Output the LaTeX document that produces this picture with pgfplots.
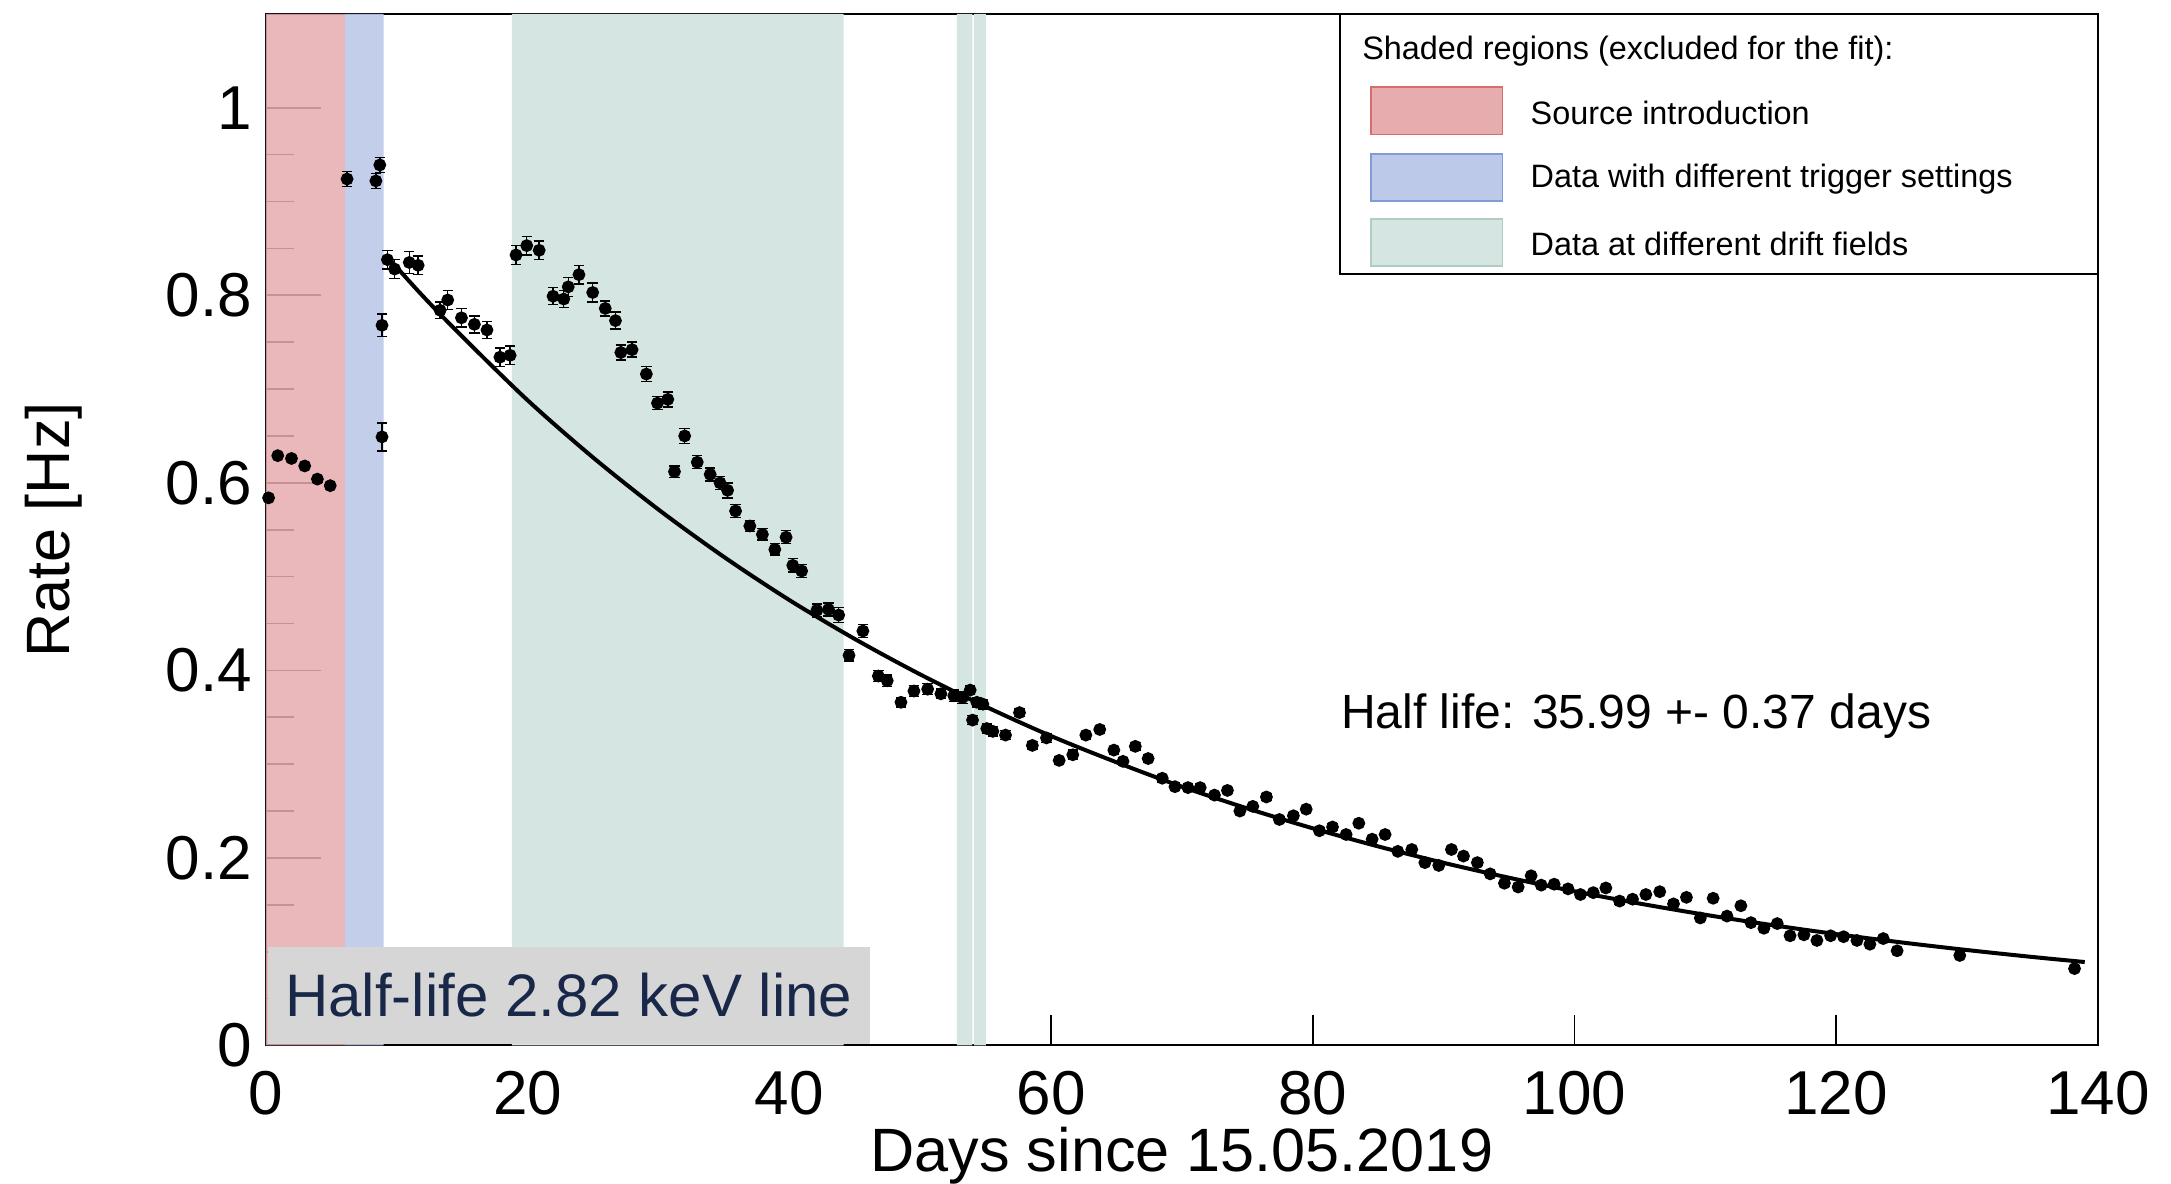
\documentclass[border=0pt]{standalone}
\usepackage{pgfplots}
\pgfplotsset{compat=1.18}
\usepackage{pgfplotstable}
\usepackage{fontspec}
\setmainfont{Liberation Sans}
\definecolor{redsh}{RGB}{230,172,174}
\definecolor{bluesh}{RGB}{189,201,232}
\definecolor{greensh}{RGB}{213,229,225}
\definecolor{redln}{RGB}{214,110,112}
\definecolor{blueln}{RGB}{130,155,215}
\definecolor{greenln}{RGB}{175,205,195}
\definecolor{navy}{RGB}{25,40,72}
\definecolor{boxgray}{RGB}{214,214,214}

\pgfplotstableread{
d v e
0.2 0.584 0.003
0.9 0.629 0.003
1.95 0.626 0.003
2.96 0.618 0.003
3.93 0.604 0.003
4.91 0.597 0.003
6.2 0.924 0.008
8.4 0.922 0.008
8.7 0.939 0.008
8.87 0.768 0.012
8.87 0.649 0.015
9.28 0.838 0.010
9.83 0.828 0.010
10.95 0.835 0.012
11.63 0.832 0.010
13.31 0.784 0.009
13.89 0.795 0.010
14.94 0.776 0.010
15.93 0.769 0.009
16.89 0.763 0.009
17.88 0.734 0.010
18.66 0.736 0.010
19.11 0.843 0.010
19.93 0.853 0.010
20.88 0.848 0.010
21.94 0.799 0.009
22.76 0.796 0.009
23.10 0.809 0.010
23.92 0.822 0.010
24.97 0.803 0.010
25.93 0.786 0.008
26.71 0.773 0.009
27.12 0.739 0.008
27.98 0.742 0.008
29.07 0.716 0.008
29.92 0.685 0.007
30.71 0.689 0.008
31.22 0.612 0.006
32.00 0.650 0.008
32.96 0.622 0.007
33.95 0.609 0.007
34.70 0.600 0.007
35.28 0.592 0.008
35.89 0.570 0.007
36.98 0.554 0.006
37.94 0.545 0.006
38.89 0.529 0.006
39.75 0.542 0.007
40.26 0.512 0.007
40.94 0.506 0.007
42.10 0.464 0.007
42.99 0.465 0.007
43.77 0.459 0.008
44.56 0.416 0.006
45.62 0.442 0.007
46.80 0.394 0.006
47.48 0.389 0.006
48.53 0.366 0.005
49.52 0.378 0.006
50.57 0.380 0.006
51.58 0.375 0.005
52.57 0.373 0.006
53.23 0.371 0.006
53.82 0.379 0.005
54.00 0.347 0.005
54.33 0.366 0.005
54.79 0.364 0.005
55.09 0.338 0.005
55.55 0.335 0.005
56.52 0.331 0.005
57.59 0.355 0.004
58.57 0.320 0.004
59.65 0.328 0.005
60.62 0.304 0.004
61.66 0.310 0.005
62.66 0.331 0.004
63.72 0.337 0.004
64.80 0.315 0.004
65.50 0.303 0.004
66.44 0.319 0.004
67.42 0.306 0.004
68.50 0.285 0.004
69.47 0.276 0.004
70.46 0.275 0.004
71.40 0.275 0.004
72.49 0.267 0.003
73.48 0.272 0.003
74.43 0.250 0.003
75.42 0.255 0.003
76.46 0.265 0.003
77.45 0.241 0.003
78.52 0.245 0.003
79.50 0.252 0.003
80.51 0.229 0.003
81.51 0.233 0.003
82.55 0.225 0.003
83.52 0.237 0.003
84.54 0.220 0.003
85.53 0.225 0.003
86.50 0.207 0.003
87.57 0.209 0.003
88.57 0.195 0.003
89.63 0.192 0.003
90.60 0.209 0.003
91.52 0.202 0.003
92.58 0.195 0.003
93.56 0.183 0.003
94.65 0.173 0.003
95.70 0.169 0.003
96.69 0.181 0.003
97.46 0.171 0.003
98.45 0.172 0.003
99.51 0.167 0.003
100.46 0.161 0.003
101.44 0.163 0.003
102.40 0.168 0.003
103.45 0.154 0.003
104.44 0.156 0.003
105.46 0.161 0.003
106.52 0.164 0.003
107.57 0.151 0.003
108.56 0.158 0.003
109.62 0.136 0.003
110.60 0.157 0.003
111.66 0.138 0.003
112.72 0.149 0.003
113.49 0.131 0.003
114.48 0.125 0.003
115.50 0.130 0.003
116.48 0.117 0.003
117.54 0.118 0.003
118.53 0.112 0.003
119.58 0.117 0.003
120.57 0.116 0.003
121.59 0.112 0.003
122.58 0.108 0.003
123.60 0.114 0.003
124.66 0.101 0.003
129.45 0.096 0.003
138.22 0.082 0.003
}\ratedata

\pgfplotstableread{
t f
9.6 0.836
12 0.799
15 0.756
20 0.688
25 0.627
30 0.5715
35 0.521
40 0.475
45 0.4335
50 0.3957
55 0.3614
60 0.330
65 0.302
70 0.276
75 0.2528
80 0.2316
85 0.2123
90 0.1948
95 0.1789
100 0.1644
105 0.1513
110 0.1394
115 0.1286
120 0.1188
125 0.1099
130 0.1018
135 0.0944
139 0.0890
}\fitdata

\begin{document}
\begin{tikzpicture}
\useasboundingbox (-66.5pt,-34.6pt) rectangle (476.3pt,261.4pt);
\begin{axis}[
  anchor=south west, at={(0pt,0pt)},
  scale only axis, width=458pt, height=257.9pt,
  xmin=0, xmax=140, ymin=0, ymax=1.1,
  xtick={0,20,...,140},
  ytick={0,0.2,0.4,0.6,0.8,1},
  minor y tick num=3,
  tick align=inside,
  xtick pos=bottom, ytick pos=left,
  major tick length=7.7pt,
  minor tick length=6.9pt,
  y tick style={/pgfplots/major tick length=13.7pt},
  tick style={black, line width=0.4pt},
  axis line style={black, line width=0.5pt},
  /pgf/number format/assume math mode=true,
  ticklabel style={font=\fontsize{15.5}{18}\selectfont},
  xticklabel style={yshift=-2.8pt},
  xlabel={Days since 15.05.2019},
  ylabel={Rate [Hz]},
  label style={font=\fontsize{15.3}{18}\selectfont},
  xlabel style={at={(axis description cs:0.5,-0.1221)}, anchor=base},
  ylabel style={at={(axis description cs:-0.1074,0.5)}, anchor=base, rotate=0},
  clip=true,
]
\addplot[draw=none, fill=redsh, fill opacity=0.85] coordinates {(0,0) (0,1.1) (6.03,1.1) (6.03,0)} \closedcycle;
\addplot[draw=none, fill=bluesh, fill opacity=0.9] coordinates {(6.03,0) (6.03,1.1) (9.0,1.1) (9.0,0)} \closedcycle;
\addplot[draw=none, fill=greensh] coordinates {(18.8,0) (18.8,1.1) (44.15,1.1) (44.15,0)} \closedcycle;
\addplot[draw=none, fill=greensh] coordinates {(52.8,0) (52.8,1.1) (53.98,1.1) (53.98,0)} \closedcycle;
\addplot[draw=none, fill=greensh] coordinates {(54.1,0) (54.1,1.1) (55.02,1.1) (55.02,0)} \closedcycle;
\addplot[black, line width=1pt, smooth] table[x=t, y=f] {\fitdata};
\addplot[only marks, mark=*, mark size=1.4pt, black,
  error bars/.cd, y dir=both, y explicit,
  error bar style={line width=0.35pt, black},
  error mark options={rotate=90, mark size=1.3pt, line width=0.35pt, black}]
  table[x=d, y=v, y error=e] {\ratedata};
\end{axis}
% grey label box
\fill[boxgray] (0.4pt,0.4pt) rectangle (151pt,24.6pt);
\node[font=\fontsize{15}{18}\selectfont, text=navy, anchor=center] at (75.7pt,12.6pt) {Half-life 2.82 keV line};
% fit result text
\node[font=\fontsize{12}{14}\selectfont, anchor=west, inner sep=0pt] at (268.6pt,82.4pt) {Half life: 35.99 +- 0.37 days};
% legend
\draw[fill=white, draw=black, line width=0.5pt] (268.6pt,192.8pt) rectangle (458pt,257.9pt);
\node[font=\fontsize{8.1}{10}\selectfont, anchor=west, inner sep=0pt] at (273.9pt,248.6pt) {Shaded regions (excluded for the fit):};
\draw[fill=redsh, draw=redln, line width=0.4pt] (276.3pt,227.8pt) rectangle (309.2pt,239.6pt);
\draw[fill=bluesh, draw=blueln, line width=0.4pt] (276.3pt,211.1pt) rectangle (309.2pt,222.9pt);
\draw[fill=greensh, draw=greenln, line width=0.4pt] (276.3pt,194.9pt) rectangle (309.2pt,206.7pt);
\node[font=\fontsize{8.1}{10}\selectfont, anchor=west, inner sep=0pt] at (316pt,233.2pt) {Source introduction};
\node[font=\fontsize{8.1}{10}\selectfont, anchor=west, inner sep=0pt] at (316pt,216.5pt) {Data with different trigger settings};
\node[font=\fontsize{8.1}{10}\selectfont, anchor=west, inner sep=0pt] at (316pt,200.3pt) {Data at different drift fields};
\end{tikzpicture}
\end{document}
